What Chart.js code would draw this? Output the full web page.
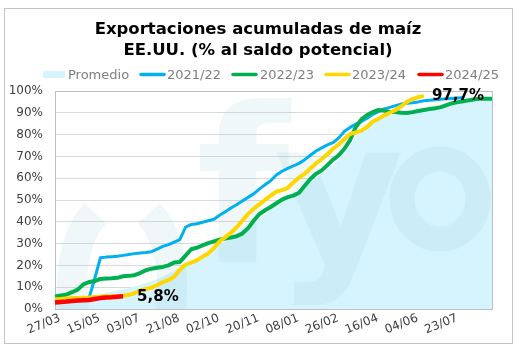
<!DOCTYPE html>
<html><head><meta charset="utf-8">
<script src="https://cdn.jsdelivr.net/npm/chart.js@4.4.1/dist/chart.umd.min.js"></script>
<style>html,body{margin:0;padding:0;background:#fff;}canvas{display:block;}</style>
</head><body>
<canvas id="c" width="524" height="352"></canvas>
<script>
const titleLines = ['Exportaciones acumuladas de maíz', 'EE.UU. (% al saldo potencial)'];
const tickLabels = ['27/03','15/05','03/07','21/08','02/10','20/11','08/01','26/02','16/04','04/06','23/07'];
const labelStep = 7;
const seriesNames = ['Promedio','2021/22','2022/23','2023/24','2024/25'];

const promedio = [3.5,3.8,4.1,4.5,4.9,5.3,5.8,6.3,6.9,7.5,
  8.0,8.5,9.0,9.6,10.3,11.0,11.8,12.8,13.8,14.8,
  16.0,17.5,19.0,20.5,22.0,23.5,25.0,26.5,28.0,29.5,
  31.0,32.5,34.0,35.5,37.5,39.5,41.5,43.5,45.5,47.5,
  49.5,51.0,52.5,54.0,56.0,58.0,60.0,62.0,64.0,66.0,
  68.5,71.5,75.0,79.0,82.5,85.0,87.0,88.0,88.5,89.0,
  89.3,89.5,89.7,90.0,90.5,91.0,91.5,92.0,92.5,93.2,
  94.0,94.6,95.0,95.4,95.7,95.9,96.0,96.1];
const s2122 = [3.0,3.1,3.3,3.5,3.7,4.0,5.0,14.0,23.5,23.8,
  24.0,24.2,24.6,25.0,25.4,25.7,25.9,26.3,27.5,28.7,
  29.5,30.7,31.8,37.5,38.8,39.1,39.8,40.5,41.2,43.0,
  44.6,46.3,47.8,49.5,51.2,52.8,55.0,57.0,58.8,61.5,
  63.2,64.5,65.6,66.8,68.5,70.5,72.5,73.9,75.3,76.3,
  78.5,81.5,83.3,84.8,86.0,87.5,89.3,90.5,91.8,92.5,
  93.3,94.0,94.4,94.6,95.0,95.5,95.8,96.0,96.2,96.4,
  96.6,96.8,97.0];
const s2223 = [5.8,6.2,6.6,7.7,8.9,11.3,12.4,12.8,13.8,14.0,
  14.1,14.3,15.0,15.2,15.5,16.5,17.8,18.5,18.9,19.3,
  20.0,21.3,21.6,24.5,27.4,28.1,29.2,30.2,31.0,31.8,
  32.3,32.8,33.4,34.6,37.0,40.5,43.5,45.3,46.8,48.5,
  50.2,51.3,52.0,53.3,56.5,59.6,62.0,63.6,66.0,68.5,
  70.5,73.5,77.5,83.5,87.0,89.0,90.3,91.3,91.0,90.4,
  90.4,90.0,89.9,90.3,90.8,91.3,91.7,92.1,92.6,93.5,
  94.4,94.9,95.3,95.8,96.2,96.5,96.5,96.5];
const s2324 = [4.5,4.6,4.8,5.0,5.1,5.2,5.3,5.5,5.6,5.8,
  5.9,6.0,6.1,6.5,7.2,8.5,9.2,9.8,11.0,12.3,
  13.2,14.8,18.0,20.3,21.3,22.3,24.0,25.5,28.0,31.0,
  33.0,35.0,37.5,40.5,43.5,46.0,48.0,50.0,52.0,53.8,
  54.5,55.5,58.0,60.3,62.0,64.5,66.8,68.8,71.0,73.5,
  75.5,78.0,80.3,81.0,81.8,83.5,86.0,87.2,88.8,90.0,
  91.3,93.0,95.0,96.3,97.2,97.7];
const s2425 = [3.0,3.2,3.4,3.7,3.9,4.0,4.1,4.6,5.0,5.3,5.4,5.6,5.8];

const nPoints = promedio.length;
const categories = [];
for (let i = 0; i < nPoints; i++) categories.push(i % labelStep === 0 ? (tickLabels[i / labelStep] || '') : '');

const COLORS = ['#D6F4FD', '#00B0F0', '#00B050', '#FFD700', '#FF0000'];
const FONT = '"DejaVu Sans", Verdana, sans-serif';

function lineDs(label, data, color, width, order) {
  return { label, data, borderColor: color, backgroundColor: color, borderWidth: width,
    pointRadius: 0, fill: false, tension: 0, order, borderJoinStyle: 'round', borderCapStyle: 'butt' };
}

const fmt = v => v.toFixed(1).replace('.', ',') + '%';

const deco = {
  id: 'deco',
  beforeDraw(chart) {
    const ctx = chart.ctx;
    ctx.save();
    ctx.fillStyle = '#fff';
    ctx.fillRect(0, 0, chart.width, chart.height);
    ctx.strokeStyle = '#C4C4C4';
    ctx.lineWidth = 1;
    ctx.strokeRect(4.5, 8.5, 508, 335);
    ctx.fillStyle = '#000';
    ctx.font = 'bold 16.5px ' + FONT;
    ctx.textAlign = 'center';
    ctx.textBaseline = 'alphabetic';
    ctx.fillText(titleLines[0], 258, 34);
    ctx.fillText(titleLines[1], 258, 55);
    const items = [
      { x: 43, tx: 68, kind: 'box' },
      { x: 140, tx: 167, kind: 'line' },
      { x: 232, tx: 260, kind: 'line' },
      { x: 325, tx: 352, kind: 'line' },
      { x: 418, tx: 445, kind: 'line' }
    ];
    ctx.font = '13px ' + FONT;
    ctx.textAlign = 'left';
    items.forEach((it, i) => {
      const ds = chart.data.datasets[i];
      if (it.kind === 'box') {
        ctx.fillStyle = ds.backgroundColor;
        ctx.fillRect(it.x, 71, 22, 7);
      } else {
        ctx.strokeStyle = ds.borderColor;
        ctx.lineWidth = 3.5;
        ctx.lineCap = 'round';
        ctx.beginPath(); ctx.moveTo(it.x + 1, 74.5); ctx.lineTo(it.x + 24, 74.5); ctx.stroke();
      }
      ctx.fillStyle = '#7F7F7F';
      ctx.fillText(ds.label, it.tx, 79);
    });
    ctx.restore();
  },
  afterDatasetDraw(chart, args) {
    if (args.index !== 0) return;
    const ctx = chart.ctx, ca = chart.chartArea;
    ctx.save();
    ctx.beginPath(); ctx.rect(ca.left, ca.top, ca.right - ca.left, ca.bottom - ca.top); ctx.clip();
    ctx.strokeStyle = ctx.fillStyle = 'rgba(150,200,215,0.14)';
    ctx.lineWidth = 30;
    ctx.beginPath(); ctx.ellipse(122, 285, 50, 85, 0, Math.PI * 0.55, Math.PI * 1.32); ctx.stroke();
    ctx.beginPath(); ctx.ellipse(122, 285, 50, 85, 0, -Math.PI * 0.32, Math.PI * 0.45); ctx.stroke();
    ctx.font = 'bold 215px ' + FONT;
    ctx.textAlign = 'left'; ctx.textBaseline = 'alphabetic';
    ctx.fillText('f', 196, 262);
    ctx.font = 'bold 200px ' + FONT;
    ctx.fillText('y', 274, 262);
    ctx.lineWidth = 25;
    ctx.beginPath(); ctx.ellipse(440, 199, 38, 40, 0, 0, Math.PI * 2); ctx.stroke();
    ctx.restore();
    ctx.save();
    ctx.strokeStyle = '#BFBFBF';
    ctx.lineWidth = 1;
    ctx.strokeRect(Math.round(ca.left) + 0.5, Math.round(ca.top) + 0.5,
      Math.round(ca.right - ca.left), Math.round(ca.bottom - ca.top));
    ctx.restore();
  },
  afterDatasetsDraw(chart) {
    const ctx = chart.ctx, xs = chart.scales.x, ys = chart.scales.y;
    ctx.save();
    ctx.fillStyle = '#000';
    ctx.font = 'bold 15px ' + FONT;
    ctx.textAlign = 'left';
    ctx.textBaseline = 'middle';
    const r = s2425.length - 1;
    ctx.fillText(fmt(s2425[r]), xs.getPixelForValue(r) + 14, ys.getPixelForValue(s2425[r]) + 1);
    const yl = s2324.length - 1;
    ctx.fillText(fmt(s2324[yl]), xs.getPixelForValue(yl) + 8, ys.getPixelForValue(s2324[yl]));
    ctx.restore();
  }
};

new Chart(document.getElementById('c'), {
  type: 'line',
  data: {
    labels: categories,
    datasets: [
      { label: seriesNames[0], data: promedio, fill: 'origin', backgroundColor: COLORS[0],
        borderColor: COLORS[0], borderWidth: 0, pointRadius: 0, tension: 0, order: 5 },
      lineDs(seriesNames[1], s2122, COLORS[1], 3, 4),
      lineDs(seriesNames[2], s2223, COLORS[2], 4, 3),
      lineDs(seriesNames[3], s2324, COLORS[3], 4, 2),
      lineDs(seriesNames[4], s2425, COLORS[4], 4.5, 1)
    ]
  },
  options: {
    responsive: false,
    animation: false,
    devicePixelRatio: 1,
    layout: { padding: { top: 91, right: 32, bottom: 0, left: 0 } },
    plugins: { legend: { display: false }, title: { display: false }, tooltip: { enabled: false } },
    scales: {
      x: {
        type: 'category',
        offset: false,
        grid: { display: false, drawTicks: false },
        border: { display: false },
        ticks: {
          autoSkip: false, minRotation: 22, maxRotation: 22, padding: 2, labelOffset: 5,
          color: '#404040', font: { family: FONT, size: 12 },
          callback: (v, i) => categories[i]
        },
        afterFit: s => { s.height = 43; }
      },
      y: {
        min: 0, max: 100,
        grid: { color: '#D9D9D9', lineWidth: 1, drawTicks: false },
        border: { display: false },
        ticks: { stepSize: 10, padding: 12, color: '#404040', font: { family: FONT, size: 12 },
          callback: v => v + '%' },
        afterFit: s => { s.width = 55; }
      }
    }
  },
  plugins: [deco]
});
</script>
</body></html>
